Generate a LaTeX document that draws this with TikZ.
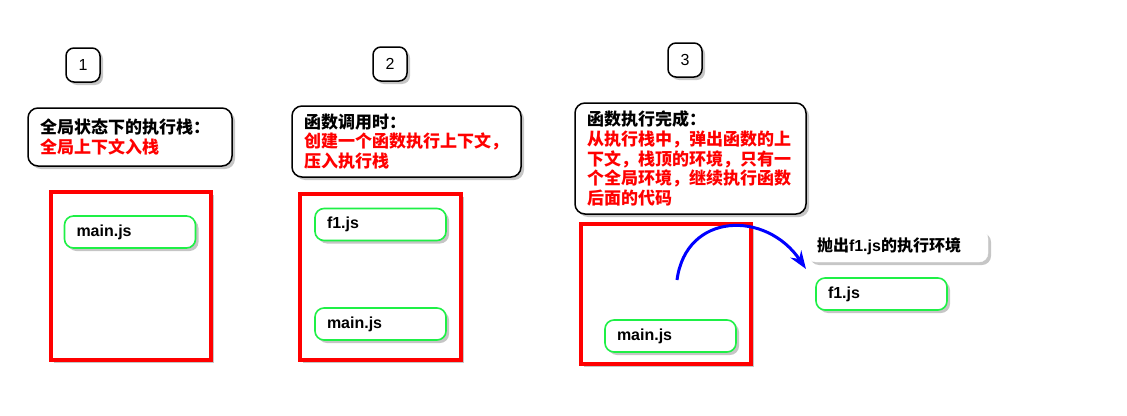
\documentclass[tikz,border=0pt]{standalone}
\usepackage{fontspec}
\setmainfont{Liberation Sans}
\newfontfamily\cjk{Noto Sans CJK SC}
\usetikzlibrary{arrows.meta,shadows}

\definecolor{stackred}{RGB}{255,0,0}
\definecolor{ctxgreen}{RGB}{30,240,70}
\definecolor{popblue}{RGB}{0,0,255}

\newcommand{\hl}[1]{\textcolor{stackred}{#1}}

\tikzset{
  softshadow/.style={drop shadow={shadow xshift=3pt,shadow yshift=-3pt,opacity=0.45}},
  badge/.style={draw,line width=1.5pt,rounded corners=8pt,fill=white,softshadow,
    minimum width=34pt,minimum height=34pt,inner sep=0pt,font=\fontsize{16}{19}\selectfont},
  note/.style={draw,line width=1.5pt,rounded corners=10pt,fill=white,softshadow,
    text width=#1,align=left,inner xsep=12pt,inner ysep=0pt,
    font=\fontsize{17}{19.8}\selectfont\cjk\bfseries},
  stackbox/.style={draw=stackred,line width=3.5pt,fill=white,softshadow},
  ctx/.style={draw=ctxgreen,line width=1.6pt,rounded corners=9pt,fill=white,softshadow,
    minimum width=131pt,minimum height=32pt,text width=107pt,align=left,inner xsep=12pt,inner ysep=0pt,
    font=\fontsize{16}{19}\selectfont\bfseries},
  tag/.style={draw=white,rounded corners=9pt,fill=white,softshadow,
    minimum width=181pt,minimum height=32pt,text width=161pt,align=left,inner xsep=10pt,inner ysep=0pt,
    font=\fontsize{16}{19}\selectfont\bfseries},
  poparrow/.style={draw=popblue,line width=3pt,-{Stealth[length=18pt,width=13pt]}}
}

\begin{document}
\begin{tikzpicture}[x=1pt,y=-1pt]
  \useasboundingbox (0,0) rectangle (1127,415);

  % step numbers
  \node[badge] (num1) at (83,65) {1};
  \node[badge] (num2) at (390,64) {2};
  \node[badge] (num3) at (685,60) {3};

  % notes
  \node[note=180pt,minimum width=204pt,minimum height=58pt] (note1) at (130,137)
    {全局状态下的执行栈：\\\hl{全局上下文入栈}};
  \node[note=205pt,minimum width=229pt,minimum height=71pt] (note2) at (406.5,141.5)
    {函数调用时：\\\hl{创建一个函数执行上下文，}\\\hl{压入执行栈}};
  \node[note=207pt,minimum width=231pt,minimum height=111pt] (note3) at (690.5,158.5)
    {函数执行完成：\\\hl{从执行栈中，弹出函数的上}\\\hl{下文，栈顶的环境，只有一}\\\hl{个全局环境，继续执行函数}\\\hl{后面的代码}};

  % execution stacks
  \node[stackbox,minimum width=160pt,minimum height=168pt] (stack1) at (131,276) {};
  \node[stackbox,minimum width=161pt,minimum height=166pt] (stack2) at (380.5,277) {};
  \node[stackbox,minimum width=170pt,minimum height=140pt] (stack3) at (666,294) {};

  % contexts
  \node[ctx] (main1) at (130,232) {main.js};
  \node[ctx] (fone2) at (380.5,224.5) {f1.js};
  \node[ctx] (main2) at (380.5,324) {main.js};
  \node[ctx] (main3) at (670.5,336) {main.js};
  \node[ctx] (fone3) at (881.5,294) {f1.js};

  % popped context
  \node[tag] (eject) at (897.5,246) {{\cjk 抛出}f1.js{\cjk 的执行环境}};
  \coordinate (popstart) at (677,280);
  \coordinate (popend) at (806,269);
  \draw[poparrow] (popstart) .. controls (686,212) and (766,210) .. (popend);
\end{tikzpicture}
\end{document}
